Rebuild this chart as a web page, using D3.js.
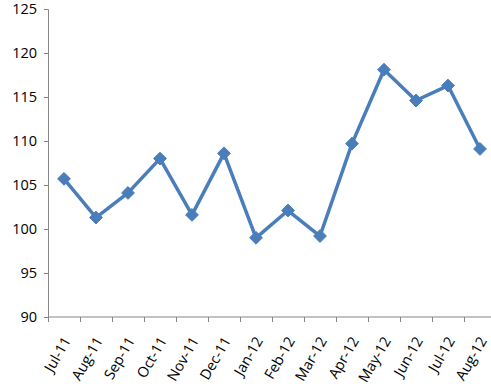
<!DOCTYPE html>
<html>
<head>
<meta charset="utf-8">
<script src="https://cdn.jsdelivr.net/npm/d3@7"></script>
<style>
  body { margin: 0; background: #fff; }
  text { font-family: "Open Sans", "Liberation Sans", sans-serif; fill: #000; }
</style>
</head>
<body>
<div id="chart"></div>
<script>
// months on the x axis
const months = ["Jul-11", "Aug-11", "Sep-11", "Oct-11", "Nov-11", "Dec-11", "Jan-12",
  "Feb-12", "Mar-12", "Apr-12", "May-12", "Jun-12", "Jul-12", "Aug-12"];
// index values
const values = [105.7, 101.3, 104.1, 108.0, 101.6, 108.6, 99.0,
  102.1, 99.2, 109.7, 118.1, 114.6, 116.3, 109.1];
const yTicks = [90, 95, 100, 105, 110, 115, 120, 125];

const width = 491, height = 390;
const plotLeft = 48, plotTop = 9, plotBottom = 317, plotRight = 496;

const svg = d3.select("#chart").append("svg")
  .attr("width", width)
  .attr("height", height);

const x = d3.scaleBand().domain(months).range([plotLeft, plotRight]);
const y = d3.scaleLinear().domain([90, 125]).range([plotBottom, plotTop]);

// y axis
const yAxis = svg.append("g")
  .attr("transform", `translate(${plotLeft},0)`)
  .call(d3.axisLeft(y).tickValues(yTicks).tickSize(4).tickPadding(7));
yAxis.select(".domain").attr("stroke", "#868686");
yAxis.selectAll(".tick line").attr("stroke", "#868686");
yAxis.selectAll(".tick text").style("font-size", "14.5px");

// x axis, ticks sit between the categories
const xAxis = svg.append("g")
  .attr("transform", `translate(0,${plotBottom})`);
xAxis.append("line")
  .attr("x1", plotLeft).attr("x2", width)
  .attr("stroke", "#868686");
xAxis.selectAll("line.tk")
  .data(months)
  .join("line")
  .attr("class", "tk")
  .attr("x1", d => x(d) + 0.5).attr("x2", d => x(d) + 0.5)
  .attr("y1", 0).attr("y2", 5)
  .attr("stroke", "#868686");
xAxis.selectAll("text")
  .data(months)
  .join("text")
  .attr("transform", d => `translate(${x(d) + x.bandwidth() / 2 + 3},${21}) rotate(-60)`)
  .attr("text-anchor", "end")
  .attr("dy", "0.35em")
  .style("font-size", "14.5px")
  .text(d => d);

// line
const line = d3.line()
  .x((d, i) => x(months[i]) + x.bandwidth() / 2)
  .y(d => y(d));

svg.append("path")
  .datum(values)
  .attr("fill", "none")
  .attr("stroke", "#4a7ebb")
  .attr("stroke-width", 3.5)
  .attr("stroke-linejoin", "round")
  .attr("d", line);

// diamond markers
svg.selectAll("path.marker")
  .data(values)
  .join("path")
  .attr("class", "marker")
  .attr("d", d3.symbol().type(d3.symbolDiamond2).size(105))
  .attr("transform", (d, i) => `translate(${x(months[i]) + x.bandwidth() / 2},${y(d)})`)
  .attr("fill", "#4a7ebb")
  .attr("stroke", "#4a7ebb")
  .attr("stroke-width", 1);
</script>
</body>
</html>
